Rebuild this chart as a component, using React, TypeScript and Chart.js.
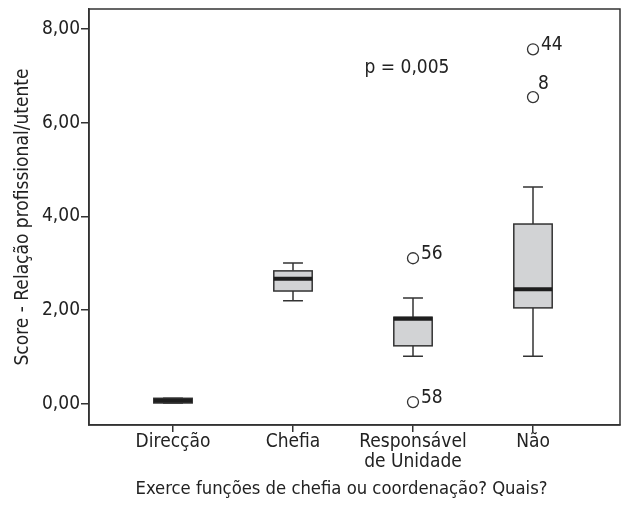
import React, { useEffect, useRef } from "react";
import { Chart, registerables } from "chart.js";

Chart.register(...registerables);

const categories: (string | string[])[] = ["Direcção", "Chefia", ["Responsável", "de Unidade"], "Não"];
const whiskerLow = [0.02, 2.2, 1.02, 1.02];
const q1 = [0.02, 2.41, 1.24, 2.05];
const median = [0.07, 2.67, 1.82, 2.45];
const q3 = [0.12, 2.84, 1.85, 3.84];
const whiskerHigh = [0.12, 3.01, 2.26, 4.63];
const outlierCat = [2, 2, 3, 3];
const outlierValue = [3.11, 0.04, 7.57, 6.55];
const outlierLabel = ["56", "58", "44", "8"];
const yTicks = [0, 2, 4, 6, 8];
const pText = "p = 0,005";
const xTitle = "Exerce funções de chefia ou coordenação? Quais?";

const FONT = "'Liberation Sans Narrow', 'DejaVu Sans Condensed', sans-serif";
const INK = "#333333";
const labelDx = [8, 8, 8, 5];
const labelDy = [1, 1, 1, -8];

const boxPlugin = {
  id: "boxes",
  beforeDatasetsDraw(chart: any) {
    const { ctx, chartArea, scales } = chart;
    const xs = scales.x, ys = scales.y;
    ctx.save();
    ctx.strokeStyle = INK;
    ctx.lineWidth = 1.5;
    ctx.strokeRect(chartArea.left, chartArea.top, chartArea.right - chartArea.left, chartArea.bottom - chartArea.top);
    const unit = xs.getPixelForValue(1) - xs.getPixelForValue(0);
    const halfBox = unit * 0.16;
    const halfCap = unit * 0.083;
    for (let i = 0; i < categories.length; i++) {
      const cx = xs.getPixelForValue(i);
      const yl = ys.getPixelForValue(whiskerLow[i]);
      const yq1 = ys.getPixelForValue(q1[i]);
      const ym = ys.getPixelForValue(median[i]);
      const yq3 = ys.getPixelForValue(q3[i]);
      const yh = ys.getPixelForValue(whiskerHigh[i]);
      ctx.strokeStyle = INK;
      ctx.lineWidth = 1.5;
      ctx.beginPath();
      ctx.moveTo(cx, yq3); ctx.lineTo(cx, yh);
      ctx.moveTo(cx - halfCap, yh); ctx.lineTo(cx + halfCap, yh);
      ctx.moveTo(cx, yq1); ctx.lineTo(cx, yl);
      ctx.moveTo(cx - halfCap, yl); ctx.lineTo(cx + halfCap, yl);
      ctx.stroke();
      ctx.fillStyle = "#d2d3d5";
      ctx.fillRect(cx - halfBox, yq3, halfBox * 2, yq1 - yq3);
      ctx.strokeRect(cx - halfBox, yq3, halfBox * 2, yq1 - yq3);
      ctx.strokeStyle = "#1e1e1e";
      ctx.lineWidth = 4;
      ctx.beginPath();
      ctx.moveTo(cx - halfBox, ym); ctx.lineTo(cx + halfBox, ym);
      ctx.stroke();
    }
    ctx.restore();
  },
  afterDatasetsDraw(chart: any) {
    const { ctx, scales } = chart;
    const xs = scales.x, ys = scales.y;
    ctx.save();
    ctx.fillStyle = "#222";
    ctx.font = `19px ${FONT}`;
    ctx.textBaseline = "alphabetic";
    ctx.textAlign = "left";
    for (let i = 0; i < outlierLabel.length; i++) {
      const px = xs.getPixelForValue(outlierCat[i]);
      const py = ys.getPixelForValue(outlierValue[i]);
      ctx.fillText(outlierLabel[i], px + labelDx[i], py + labelDy[i]);
    }
    ctx.textAlign = "center";
    ctx.textBaseline = "middle";
    ctx.fillText(pText, xs.getPixelForValue(1.95), ys.getPixelForValue(7.17));
    ctx.restore();
  },
  afterDraw(chart: any) {
    const { ctx, chartArea } = chart;
    ctx.save();
    ctx.fillStyle = "#222";
    ctx.font = `18.3px ${FONT}`;
    ctx.textAlign = "center";
    ctx.textBaseline = "middle";
    ctx.fillText(xTitle, (chartArea.left + chartArea.right) / 2 - 13, chartArea.bottom + 64);
    ctx.restore();
  },
};

export default function App() {
  const ref = useRef<HTMLCanvasElement | null>(null);
  useEffect(() => {
    document.body.style.margin = "0";
    const canvas = ref.current!;
    const chart = new Chart(canvas, {
      type: "scatter",
      data: {
        datasets: [
          {
            label: "outliers",
            data: outlierCat.map((c, i) => ({ x: c, y: outlierValue[i] })),
            pointStyle: "circle",
            pointRadius: 5.5,
            pointBackgroundColor: "#ffffff",
            pointBorderColor: INK,
            pointBorderWidth: 1.3,
          },
        ],
      },
      options: {
        animation: false,
        responsive: false,
        layout: { autoPadding: false, padding: { left: 0, right: 1, top: 9, bottom: 0 } },
        plugins: { legend: { display: false }, tooltip: { enabled: false } },
        scales: {
          x: {
            type: "linear",
            min: -0.7,
            max: 3.725,
            afterBuildTicks: (s: any) => { s.ticks = categories.map((_, i) => ({ value: i })); },
            afterFit: (s: any) => { s.height = 83; s.paddingLeft = 0; s.paddingRight = 0; },
            ticks: {
              autoSkip: false,
              maxRotation: 0,
              padding: 0,
              color: "#222",
              font: { family: FONT, size: 19, lineHeight: 1.05 },
              callback: (v: any) => categories[v as number] as any,
            },
            grid: { drawOnChartArea: false, tickLength: 7, color: INK, lineWidth: 1.5 },
            border: { color: INK, width: 1.5 },
            title: { display: false },
          },
          y: {
            type: "linear",
            min: -0.45,
            max: 8.43,
            afterBuildTicks: (s: any) => { s.ticks = yTicks.map((v) => ({ value: v })); },
            afterFit: (s: any) => { s.width = 89; s.paddingTop = 0; s.paddingBottom = 0; },
            ticks: {
              padding: 1,
              color: "#222",
              font: { family: FONT, size: 19 },
              callback: (v: any) => Number(v).toFixed(2).replace(".", ","),
            },
            grid: { drawOnChartArea: false, tickLength: 8, color: INK, lineWidth: 1.5 },
            border: { color: INK, width: 1.5 },
            title: {
              display: true,
              text: "Score - Relação profissional/utente",
              color: "#222",
              font: { family: FONT, size: 19 },
              padding: { top: 12, bottom: 4 },
            },
          },
        },
      },
      plugins: [boxPlugin],
    });
    return () => chart.destroy();
  }, []);
  return (
    <div style={{ width: 621, height: 508 }}>
      <canvas ref={ref} width={621} height={508} style={{ display: "block" }} />
    </div>
  );
}
